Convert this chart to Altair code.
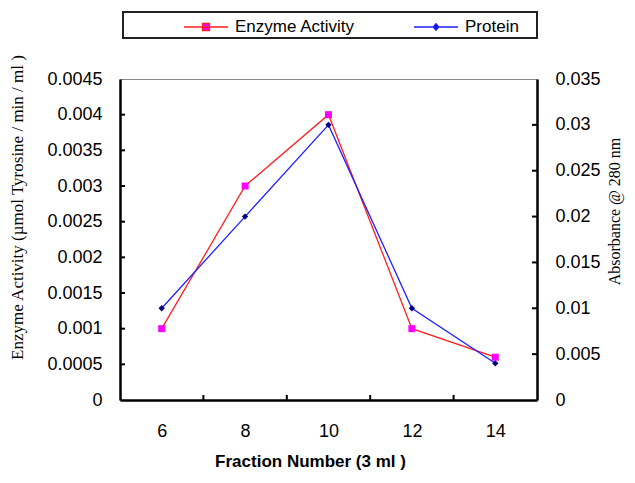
import altair as alt
import pandas as pd

# ---- data ----
fractions = [6, 8, 10, 12, 14]
enzyme_activity = [0.001, 0.003, 0.004, 0.001, 0.0006]
protein_abs = [0.010, 0.020, 0.030, 0.010, 0.004]

left_tick_values = [0, 0.0005, 0.001, 0.0015, 0.002, 0.0025, 0.003, 0.0035, 0.004, 0.0045]
right_tick_values = [0, 0.005, 0.01, 0.015, 0.02, 0.025, 0.03, 0.035]
x_label_values = [6, 8, 10, 12, 14]
x_tick_marks = [7, 9, 11, 13]
series_names = ["Enzyme Activity", "Protein"]

W, H = 417, 321

df = pd.DataFrame({"fraction": fractions, "enzyme": enzyme_activity, "protein": protein_abs})

x_scale = alt.Scale(domain=[5, 15], nice=False, zero=False)
x_axis = alt.Axis(
    values=x_label_values, format="d", tickSize=0, labelPadding=22,
    labelFont="Liberation Sans", labelFontSize=18, labelColor="black",
    domainColor="black", domainWidth=2.5, grid=False,
    title="Fraction Number (3 ml )", titleFont="Liberation Sans", titleFontSize=17,
    titleFontWeight="bold", titleColor="black", titleX=190, titleY=61,
    titleBaseline="middle", titleAlign="center",
)

left_axis = alt.Axis(
    values=left_tick_values, format="~g", tickSize=0, labelPadding=18,
    labelFont="Liberation Sans", labelFontSize=18, labelColor="black",
    domainColor="black", domainWidth=2.5, grid=False, orient="left",
    title="Enzyme Activity (µmol Tyrosine / min / ml )", titleFont="Liberation Serif",
    titleFontSize=17, titleFontWeight="normal", titleColor="black",
    titleAngle=270, titleX=-103, titleY=128, titleAlign="center", titleBaseline="middle",
)

right_axis = alt.Axis(
    values=right_tick_values, format="~g", tickSize=0, labelPadding=18,
    labelFont="Liberation Sans", labelFontSize=18, labelColor="black",
    domainColor="black", domainWidth=2.5, grid=False, orient="right",
    title="Absorbance  @  280 nm", titleFont="Liberation Serif",
    titleFontSize=16, titleFontWeight="normal", titleColor="black",
    titleAngle=270, titleX=77, titleY=132, titleAlign="center", titleBaseline="middle",
)

left_scale = alt.Scale(domain=[0, 0.0045], nice=False)
right_scale = alt.Scale(domain=[0, 0.035], nice=False)

# ---- enzyme (left axis) ----
enz_line = alt.Chart(df).mark_line(
    color="#ff2020", strokeWidth=1.3,
    point=alt.OverlayMarkDef(shape="square", filled=True, color="#ff00ff", size=49, opacity=1),
).encode(
    x=alt.X("fraction:Q", scale=x_scale, axis=x_axis),
    y=alt.Y("enzyme:Q", scale=left_scale, axis=left_axis),
)

left_ticks = alt.Chart(pd.DataFrame({"enzyme": left_tick_values[1:-1]})).mark_rule(
    color="black", strokeWidth=2
).encode(
    y=alt.Y("enzyme:Q", scale=left_scale, axis=left_axis),
    x=alt.value(0), x2=alt.value(5),
)

bottom_ticks = alt.Chart(pd.DataFrame({"fraction": x_tick_marks})).mark_rule(
    color="black", strokeWidth=2
).encode(
    x=alt.X("fraction:Q", scale=x_scale, axis=x_axis),
    y=alt.value(H - 5), y2=alt.value(H),
)

enz_layer = alt.layer(enz_line, left_ticks, bottom_ticks)

# ---- protein (right axis) ----
prot_line = alt.Chart(df).mark_line(
    color="#2020ff", strokeWidth=1.3,
    point=alt.OverlayMarkDef(shape="diamond", filled=True, color="#000080", size=40, opacity=1),
).encode(
    x=alt.X("fraction:Q", scale=x_scale, axis=x_axis),
    y=alt.Y("protein:Q", scale=right_scale, axis=right_axis),
)

right_ticks = alt.Chart(pd.DataFrame({"protein": right_tick_values[1:-1]})).mark_rule(
    color="black", strokeWidth=2
).encode(
    y=alt.Y("protein:Q", scale=right_scale, axis=right_axis),
    x=alt.value(W - 5), x2=alt.value(W),
)

prot_layer = alt.layer(prot_line, right_ticks)

# ---- legend ----
box = alt.Chart(pd.DataFrame({"k": [0]})).mark_rect(
    fill="white", stroke="#222222", strokeWidth=2
).encode(x=alt.value(3), x2=alt.value(417), y=alt.value(-67), y2=alt.value(-41))

path_enz = "M-1,0L1,0M-0.16,-0.16L0.16,-0.16L0.16,0.16L-0.16,0.16Z"
path_prot = "M-1,0L1,0M0,-0.15L0.13,0L0,0.15L-0.13,0Z"

leg = alt.Legend(
    orient="none", legendX=63, legendY=-75, direction="horizontal", title=None,
    symbolSize=1936, symbolStrokeWidth=1.3, labelFont="Liberation Sans",
    labelFontSize=17, labelColor="black", labelOffset=6, columnPadding=56, labelLimit=300,
)

legend_layer = alt.Chart(pd.DataFrame({"series": series_names})).mark_point(
    filled=True, opacity=1, strokeWidth=1.3
).encode(
    shape=alt.Shape("series:N", scale=alt.Scale(domain=series_names, range=[path_enz, path_prot]), legend=leg),
    fill=alt.Fill("series:N", scale=alt.Scale(domain=series_names, range=["#ff00ff", "#000080"]), legend=leg),
    stroke=alt.Stroke("series:N", scale=alt.Scale(domain=series_names, range=["#ff2020", "#2020ff"]), legend=leg),
).transform_filter("false")

chart = alt.layer(box, enz_layer, prot_layer, legend_layer).resolve_scale(
    y="independent"
).properties(
    width=W, height=H,
    padding={"left": 112, "top": 71, "right": 90, "bottom": 70},
    autosize=alt.AutoSizeParams(type="none"),
    background="white",
).configure_view(stroke="#888888", strokeWidth=1)

chart.save("out.html", embed_options={"renderer": "svg", "actions": False})
